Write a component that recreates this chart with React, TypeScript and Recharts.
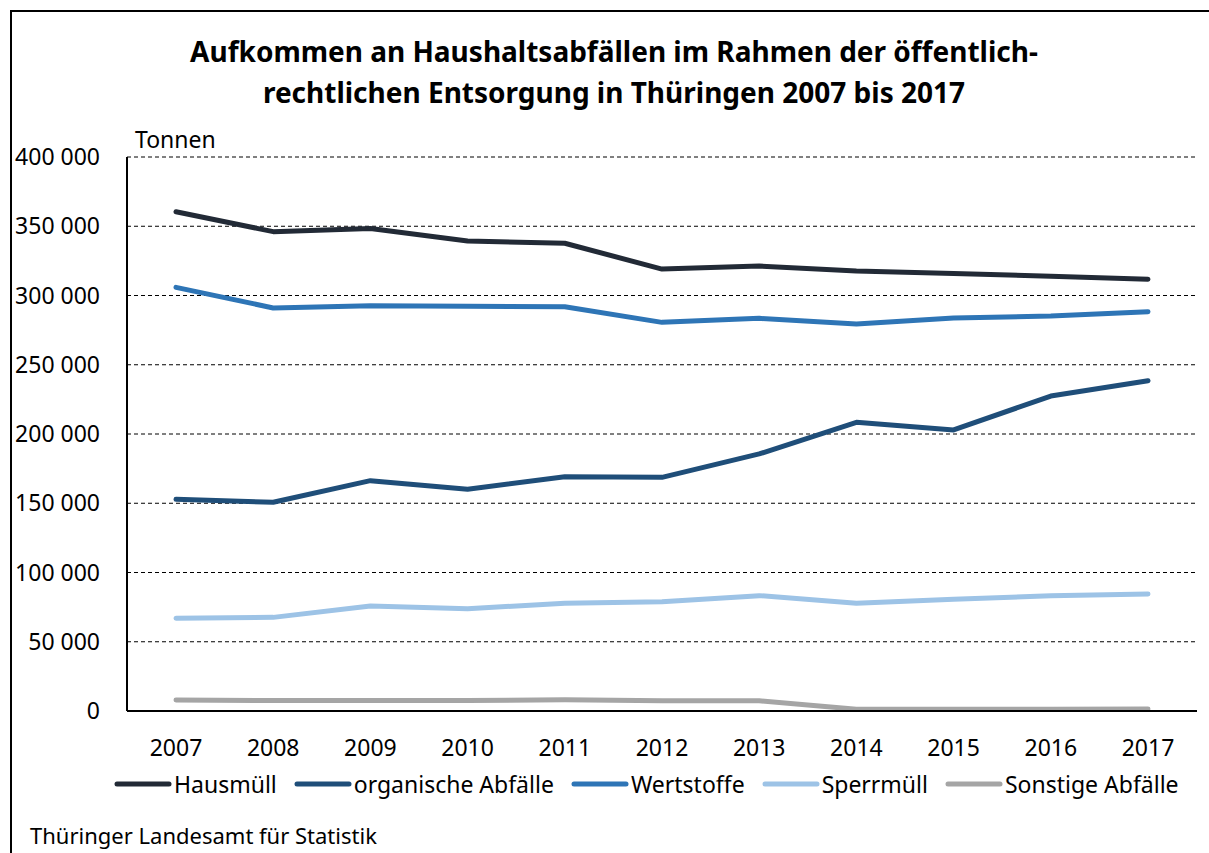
import React from "react";
import {
  LineChart,
  Line,
  XAxis,
  YAxis,
  CartesianGrid,
  Legend,
} from "recharts";

const years = ["2007", "2008", "2009", "2010", "2011", "2012", "2013", "2014", "2015", "2016", "2017"];
const hausmuell = [360500, 346100, 348300, 339400, 337700, 319100, 321300, 317700, 315800, 313900, 311700];
const organisch = [152800, 150700, 166300, 160100, 169200, 168700, 185600, 208400, 202900, 227400, 238500];
const wertstoffe = [305900, 291000, 292600, 292200, 291900, 280600, 283500, 279400, 283800, 285200, 288300];
const sperrmuell = [66900, 67600, 75800, 73900, 77800, 78900, 83300, 77800, 80600, 83300, 84500];
const sonstige = [7900, 7500, 7500, 7500, 8200, 7400, 7400, 1200, 1200, 1200, 1400];
const yTicks = [0, 50000, 100000, 150000, 200000, 250000, 300000, 350000, 400000];

const series = [
  { key: "hausmuell", name: "Hausmüll", color: "#222a36" },
  { key: "organisch", name: "organische Abfälle", color: "#1f4e79" },
  { key: "wertstoffe", name: "Wertstoffe", color: "#2e75b6" },
  { key: "sperrmuell", name: "Sperrmüll", color: "#9dc3e6" },
  { key: "sonstige", name: "Sonstige Abfälle", color: "#a5a5a5" },
];

const data = years.map((year, i) => ({
  year,
  hausmuell: hausmuell[i],
  organisch: organisch[i],
  wertstoffe: wertstoffe[i],
  sperrmuell: sperrmuell[i],
  sonstige: sonstige[i],
}));

const font = "'Noto Sans', sans-serif";
const fmt = (v: number) => String(v).replace(/\B(?=(\d{3})+(?!\d))/g, " ");

const LegendContent = () => (
  <div style={{ display: "flex", gap: 17, fontFamily: font, fontSize: 23, color: "#000" }}>
    {series.map((s) => (
      <div key={s.key} style={{ display: "flex", alignItems: "center" }}>
        <svg width={58} height={10}>
          <line x1={3} y1={5} x2={55} y2={5} stroke={s.color} strokeWidth={5} strokeLinecap="round" />
        </svg>
        <span style={{ marginLeft: 2 }}>{s.name}</span>
      </div>
    ))}
  </div>
);

export default function App() {
  return (
    <div
      style={{
        position: "absolute",
        left: 0,
        top: 0,
        width: 1209,
        height: 853,
        background: "#fff",
        overflow: "hidden",
        fontFamily: font,
      }}
    >
      <div
        style={{
          position: "absolute",
          left: 10,
          top: 10,
          width: 1230,
          height: 900,
          borderLeft: "2px solid #000",
          borderTop: "2px solid #000",
        }}
      />
      <div
        style={{
          position: "absolute",
          left: 0,
          width: 1228,
          top: 31,
          textAlign: "center",
          fontWeight: 700,
          fontSize: 28,
          lineHeight: "41px",
          color: "#000",
        }}
      >
        Aufkommen an Haushaltsabfällen im Rahmen der öffentlich-
        <br />
        rechtlichen Entsorgung in Thüringen 2007 bis 2017
      </div>
      <div style={{ position: "absolute", left: 135, top: 123, fontSize: 23, color: "#000" }}>Tonnen</div>
      <div style={{ position: "absolute", left: 30, top: 820, fontSize: 22, lineHeight: "30px", color: "#000" }}>
        Thüringer Landesamt für Statistik
      </div>
      <div style={{ position: "absolute", left: 0, top: 0 }}>
        <LineChart width={1209} height={853} data={data} margin={{ top: 157, right: 12, left: 10, bottom: 82 }}>
          <CartesianGrid vertical={false} stroke="#000" strokeDasharray="4 3" />
          <XAxis
            dataKey="year"
            height={60}
            padding={{ left: 49, right: 49 }}
            axisLine={{ stroke: "#000", strokeWidth: 2 }}
            tickLine={false}
            tickSize={0}
            tickMargin={29}
            tick={{ fill: "#000", fontSize: 23, fontFamily: font }}
            interval={0}
          />
          <YAxis
            width={117}
            domain={[0, 400000]}
            ticks={yTicks}
            tickFormatter={fmt}
            axisLine={{ stroke: "#000", strokeWidth: 2 }}
            tickLine={false}
            tickSize={0}
            tickMargin={27}
            tick={{ fill: "#000", fontSize: 23, fontFamily: font }}
          />
          <YAxis
            yAxisId="right"
            orientation="right"
            width={0}
            domain={[0, 400000]}
            ticks={yTicks}
            tick={false}
            tickLine={false}
            axisLine={{ stroke: "#000", strokeWidth: 1.5 }}
          />
          <Legend
            layout="horizontal"
            verticalAlign="middle"
            align="center"
            wrapperStyle={{ left: 114, top: 768, width: "auto" }}
            content={<LegendContent />}
          />
          {series.map((s) => (
            <Line
              key={s.key}
              type="linear"
              dataKey={s.key}
              name={s.name}
              stroke={s.color}
              strokeWidth={5}
              strokeLinecap="round"
              strokeLinejoin="round"
              dot={false}
              activeDot={false}
              isAnimationActive={false}
            />
          ))}
        </LineChart>
      </div>
    </div>
  );
}
